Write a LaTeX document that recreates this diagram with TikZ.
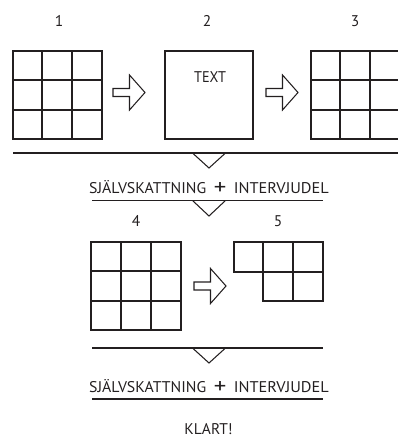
\documentclass[tikz,border=0pt]{standalone}
\usepackage{graphicx}
\usepackage{fontspec}
\setmainfont{PT Sans}
\definecolor{ink}{HTML}{231F20}
\begin{document}
\begin{tikzpicture}[x=1pt,y=-1pt,
  line/.style={draw=ink,line width=1.05pt},
  txt/.style={text=ink,font=\fontsize{15.5}{16}\selectfont,inner sep=0pt},
  plus/.style={text=ink,font=\fontsize{24}{24}\selectfont,inner sep=0pt},
  gridbox/.style={line,minimum width=89pt,minimum height=88pt,inner sep=0pt},
  barrow/.pic={\draw[line,line join=miter] (0,-4)--(16.5,-4)--(16.5,-17.5)--(32,0)--(16.5,17.5)--(16.5,4)--(0,4)--cycle;}]
\useasboundingbox (0,0) rectangle (398,437);
\begin{scope}
\clip (0,0) rectangle (398,437);
% grid 1
\node[gridbox] (g1) at (57.5,95) {};
\draw[line] (42,51)--(42,139) (72,51)--(72,139) (13,80)--(102,80) (13,110)--(102,110);
% box 2
\node[gridbox,minimum width=88pt] (b2) at (209,95) {};
\node[txt,anchor=base] (t2) at (210,82.5) {\scalebox{0.92}[1]{TEXT}};
% grid 3
\node[gridbox] (g3) at (355.5,95) {};
\draw[line] (340,51)--(340,139) (370,51)--(370,139) (311,80)--(400,80) (311,110)--(400,110);
% numbers
\node[txt,anchor=base] (n1) at (59,26.5) {1};
\node[txt,anchor=base] (n2) at (207,26.5) {2};
\node[txt,anchor=base] (n3) at (355,26.5) {3};
% arrows
\pic at (113,92.5) {barrow};
\pic at (266,92.5) {barrow};
% first line
\coordinate (l1a) at (13,153);
\coordinate (l1b) at (400,153);
\draw[line] (l1a)--(l1b);
\draw[line] (192.5,153)--(209,168)--(225.5,153);
\node[txt,anchor=base west] (s1a) at (89,193.5) {\resizebox{117pt}{\height}{SJÄLVSKATTNING}};
\node[plus] (p1) at (220,188) {\resizebox{12.5pt}{12pt}{+}};
\node[txt,anchor=base east] (s1b) at (329,193.5) {\resizebox{95pt}{\height}{INTERVJUDEL}};
\draw[line] (92,200.5)--(323,200.5);
\draw[line] (192.5,200.5)--(209,216)--(225.5,200.5);
% numbers 4 5
\node[txt,anchor=base] (n4) at (136,226) {4};
\node[txt,anchor=base] (n5) at (278,226) {5};
% grid 4
\node[gridbox,minimum width=90pt] (g4) at (136,286) {};
\draw[line] (121,242)--(121,330) (151,242)--(151,330) (91,271)--(181,271) (91,301)--(181,301);
\pic at (194,286) {barrow};
% grid 5
\draw[line] (234,242)--(323,242)--(323,301)--(263,301)--(263,272)--(234,272)--cycle;
\draw[line] (263,242)--(263,272) (293,242)--(293,301) (263,272)--(323,272);
% second block
\draw[line] (92,348)--(323,348);
\draw[line] (192.5,348)--(209,363)--(225.5,348);
\node[txt,anchor=base west] (s2a) at (89,392.5) {\resizebox{117pt}{\height}{SJÄLVSKATTNING}};
\node[plus] (p2) at (220,387) {\resizebox{12.5pt}{12pt}{+}};
\node[txt,anchor=base east] (s2b) at (329,392.5) {\resizebox{95pt}{\height}{INTERVJUDEL}};
\draw[line] (92,399)--(323,399);
\node[txt,anchor=base] (k) at (208.5,434) {KLART!};
\end{scope}
\end{tikzpicture}
\end{document}
